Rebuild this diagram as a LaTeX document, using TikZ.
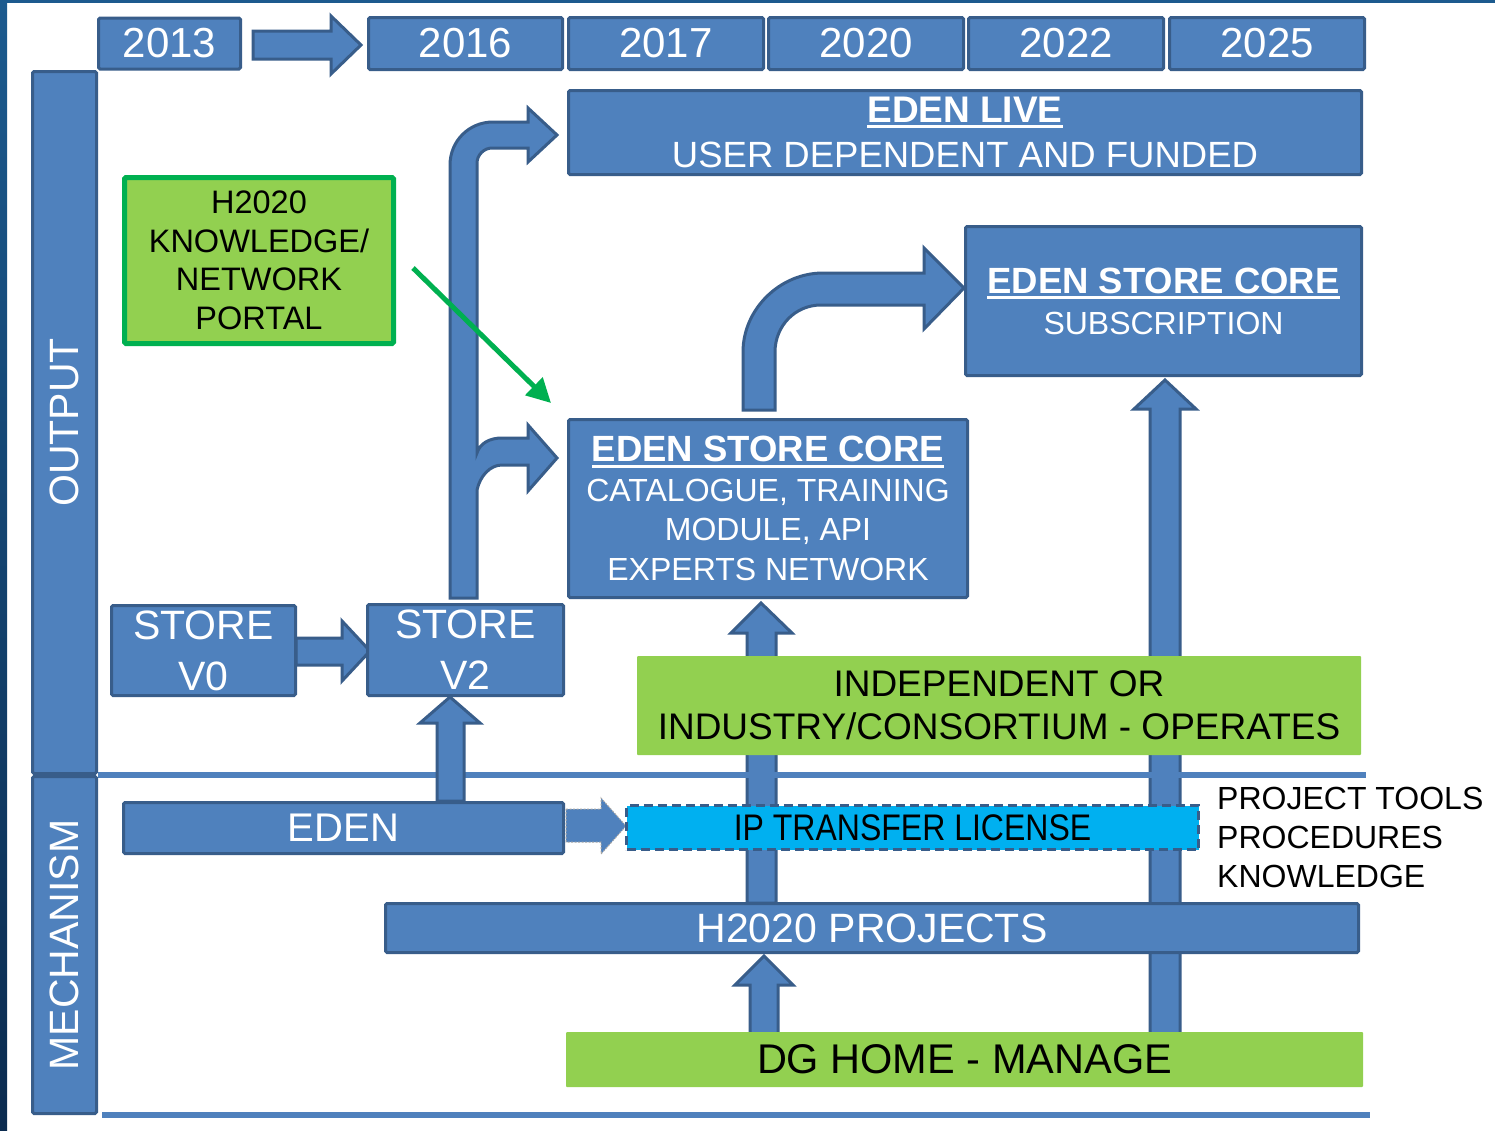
\documentclass[tikz,border=0pt]{standalone}
\usepackage{graphicx}
\usepackage{fontspec}
\setmainfont{Liberation Sans}
\usetikzlibrary{arrows.meta,calc}
\definecolor{bfill}{HTML}{4F81BD}
\definecolor{bline}{HTML}{385D8A}
\definecolor{gfill}{HTML}{92D050}
\definecolor{gline}{HTML}{00B050}
\definecolor{cfill}{HTML}{00B0F0}
\definecolor{edgeA}{HTML}{1C5A8E}
\definecolor{edgeB}{HTML}{0B2B4F}
\newcommand{\ulbar}[1]{\vtop{\hbox{#1}\kern2.5pt\hrule height 2.8pt}}
\newcommand{\fsz}[2]{\fontsize{#1}{#2}\selectfont}
\begin{document}
\begin{tikzpicture}[x=1pt,y=-1pt,
  bluebox/.style={draw=bline, fill=bfill, line width=3pt, rounded corners=1.5pt, inner sep=0pt, text=white, align=center},
  greenbox/.style={fill=gfill, inner sep=0pt, align=center, text=black, rounded corners=1pt},
  blockarrow/.style={draw=bline, fill=bfill, line width=3pt, line join=miter},
  sepline/.style={draw=bfill, line width=6pt},
  yearbox/.style={bluebox, minimum width=195pt, minimum height=52pt, font=\fsz{42}{48}},
]
\useasboundingbox (0,0) rectangle (1495,1130);
\fill[white] (0,0) rectangle (1495,1130);
\shade[top color=edgeA, bottom color=edgeB] (0,0) rectangle (7,1130);
\fill[edgeA] (0,0) rectangle (1495,3);

% long vertical arrows (behind boxes)
\draw[blockarrow] (1150,1034) -- (1150,409) -- (1134,409) -- (1165,380) -- (1196,409) -- (1180,409) -- (1180,1034) -- cycle;
\draw[blockarrow] (747,903) -- (747,633) -- (731,633) -- (761,603) -- (792,633) -- (776,633) -- (776,903) -- cycle;
\draw[blockarrow] (750,1034) -- (750,985) -- (735,985) -- (764,956) -- (793,985) -- (778,985) -- (778,1034) -- cycle;

% separator lines
\draw[sepline] (98,775) -- (1366,775);
\draw[sepline] (102,1115) -- (1370,1115);

% other block arrows
\draw[blockarrow] (253,31) -- (331,31) -- (331,16) -- (361,45) -- (331,74) -- (331,59) -- (253,59) -- cycle;
\draw[blockarrow] (296,638) -- (342,638) -- (342,621) -- (370,651) -- (342,681) -- (342,665) -- (296,665) -- cycle;
\draw[blockarrow] (437,801) -- (437,723) -- (420,723) -- (450,697) -- (480,723) -- (464,723) -- (464,801) -- cycle;
\draw[blockarrow] (450,598) -- (450,165) .. controls (450,141) and (469,122) .. (493,122) -- (528,122) -- (528,108) -- (557,135) -- (528,162) -- (528,148) -- (492,148) .. controls (484,148) and (477,155) .. (477,163) -- (477,453) .. controls (480,443) and (490,438) .. (502,438) -- (528,438) -- (528,425) -- (557,458) -- (528,491) -- (528,465) -- (502,465) .. controls (490,465) and (480,476) .. (477,490) -- (477,598) -- cycle;
\draw[blockarrow] (743,410) -- (743,352) .. controls (743,309) and (780,273) .. (823,273) -- (924,273) -- (924,248) -- (964,288) -- (924,329) -- (924,305) -- (821,305) .. controls (795,305) and (775,326) .. (775,352) -- (775,410) -- cycle;
\draw[fill=bfill, draw=gray!70, line width=1pt, dash pattern=on 2pt off 1.5pt] (566,809) -- (601,809) -- (601,798) -- (626,826) -- (601,854) -- (601,842) -- (566,842) -- cycle;

% year boxes
\node[bluebox, minimum width=142pt, minimum height=51pt, font=\fsz{42}{48}] (y2013) at (169.5,43.5) {2013};
\node[yearbox, minimum width=194pt] (y2016) at (465.5,43.5) {2016};
\node[yearbox] (y2017) at (666,43.5) {2017};
\node[yearbox] (y2020) at (866,43.5) {2020};
\node[yearbox] (y2022) at (1066,43.5) {2022};
\node[yearbox] (y2025) at (1267,43.5) {2025};

% side labels
\node[bluebox, rotate=90, minimum width=702pt, minimum height=64pt, font=\fsz{41}{48}] (output) at (64.5,422.5) {OUTPUT};
\node[bluebox, rotate=90, minimum width=337pt, minimum height=64pt, font=\fsz{41}{48}] (mech) at (64.5,945) {MECHANISM};

% knowledge portal
\node[greenbox, draw=gline, line width=5pt, rounded corners=1.5pt, minimum width=269pt, minimum height=166pt, font=\fsz{32.5}{38.5}] (kn) at (259,260.5) {H2020\\KNOWLEDGE/\\NETWORK\\PORTAL};

% output boxes
\node[bluebox, minimum width=793pt, minimum height=84pt, font=\fsz{36.5}{45}] (live) at (965,132.5) {{\fsz{37}{45}\textbf{\ulbar{EDEN LIVE}}}\\USER DEPENDENT AND FUNDED};
\node[bluebox, minimum width=399pt, minimum height=178pt, font=\fsz{32}{39.5}] (core1) at (768,508.5) {{\fsz{36.5}{41}\textbf{\ulbar{EDEN STORE CORE}}}\\CATALOGUE, TRAINING\\MODULE, API\\EXPERTS NETWORK};
\node[bluebox, minimum width=396pt, minimum height=149pt, font=\fsz{32}{41}] (core2) at (1163.5,301) {{\fsz{36.5}{41}\textbf{\ulbar{EDEN STORE CORE}}}\\SUBSCRIPTION};
\node[bluebox, minimum width=184pt, minimum height=90pt, font=\fsz{41}{51}] (v0) at (203.5,650.5) {STORE\\V0};
\node[bluebox, minimum width=196pt, minimum height=91pt, font=\fsz{41}{51}] (v2) at (465.5,650) {STORE\\V2};
\node[greenbox, minimum width=724pt, minimum height=99pt, font=\fsz{37}{43}] (indep) at (999,705.5) {INDEPENDENT OR\\INDUSTRY/CONSORTIUM - OPERATES};

% mechanism boxes
\node[bluebox, minimum width=440pt, minimum height=51pt, font=\fsz{40}{48}] (eden) at (343.5,828) {EDEN};
\node[draw=bline, fill=cfill, line width=3pt, dash pattern=on 9pt off 5pt, inner sep=0pt, minimum width=572pt, minimum height=44pt, font=\fsz{37}{44}] (ip) at (912.5,827.5) {\scalebox{0.865}[1]{IP TRANSFER LICENSE}};
\node[anchor=west, align=left, inner sep=0pt, font=\fsz{32}{39}] (tools) at (1217,837) {PROJECT TOOLS\\PROCEDURES\\KNOWLEDGE};
\node[bluebox, minimum width=973pt, minimum height=49pt, font=\fsz{41}{48}] (h2020) at (872,928) {H2020 PROJECTS};
\node[greenbox, minimum width=797pt, minimum height=55pt, font=\fsz{41.5}{48}] (dg) at (964.5,1059.5) {DG HOME - MANAGE};

% green arrow
\draw[gline, line width=5pt, -{Triangle[length=24pt,width=24pt]}] ($(kn.east)+(17,7.5)$) -- ($(core1.north west)+(-16,-15)$);
\end{tikzpicture}
\end{document}
